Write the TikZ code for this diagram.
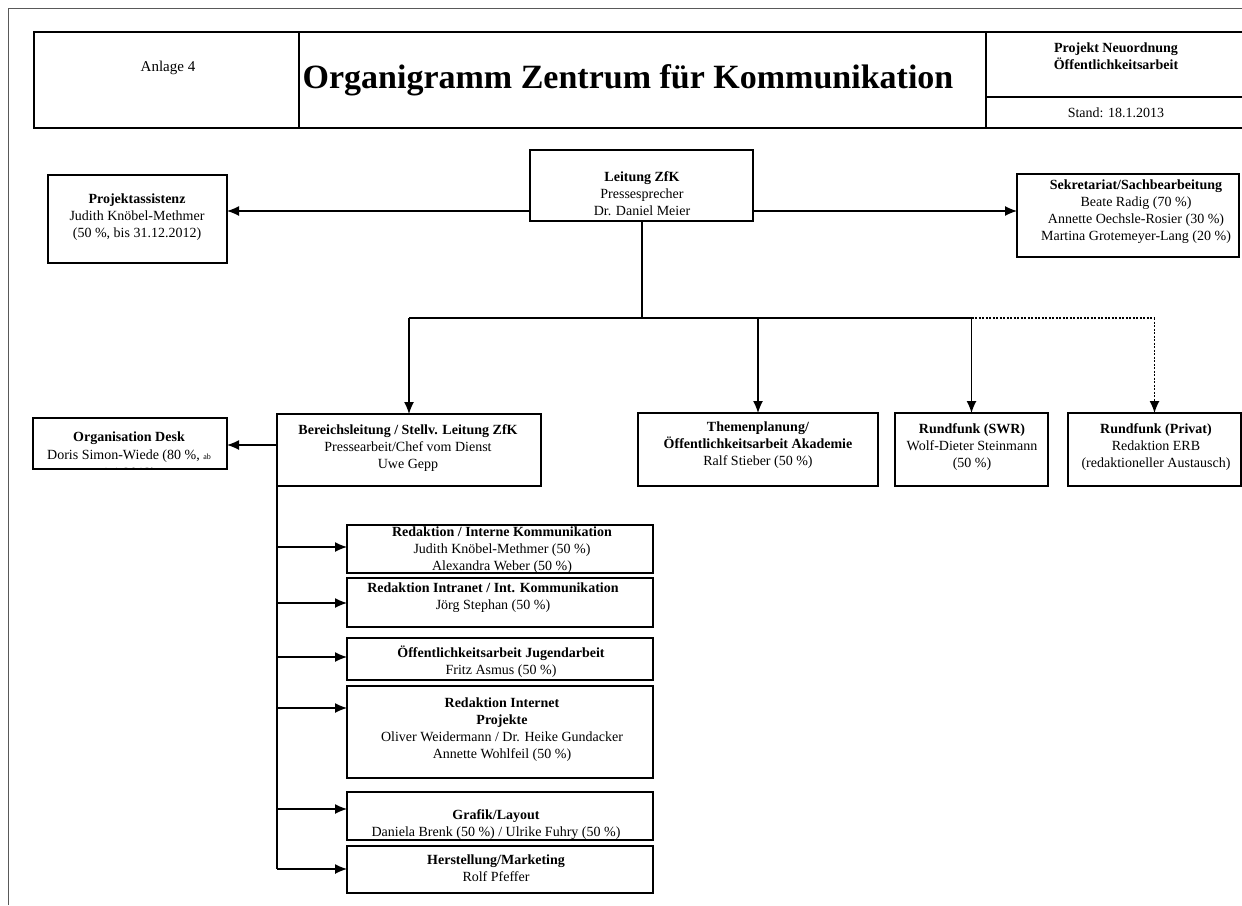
\documentclass[tikz,border=0pt]{standalone}
\usepackage{fontspec}
\setmainfont{Liberation Serif}
\usetikzlibrary{arrows.meta,fit}
\newcommand\bodyfont{\fontsize{14}{17}\selectfont}
\tikzset{
  box/.style={draw=black, line width=1.3pt, inner sep=0pt, outer sep=0pt, fill=none},
  txt/.style={inner sep=0pt, align=center, font=\bodyfont, text=black},
  arr/.style={line width=1.3pt, -{Latex[length=12pt,width=10pt]}},
  conn/.style={line width=1.3pt},
  dotconn/.style={line width=1.3pt, dash pattern=on 2pt off 1.5pt},
  pageline/.style={line width=1pt, draw=black!65}
}
\begin{document}
\begin{tikzpicture}[x=1pt,y=-1pt]
\useasboundingbox (0,0) rectangle (1242,905);
% page border
\coordinate (pgA) at (8,905);
\coordinate (pgB) at (8,8);
\coordinate (pgC) at (1242,8);
\draw[pageline] (pgA) -- (pgB) -- (pgC);

% header
\node[box, fit={(34,32) (299,128)}] (anl) {};
\node[box, fit={(299,32) (986,128)}] (tcell) {};
\node[box, fit={(986,32) (1246,97)}] (pcell) {};
\node[box, fit={(986,97) (1246,128)}] (scell) {};
\node[txt, font=\fontsize{15}{18}\selectfont] (anl-t) at (168,68) {Anlage 4};
\node[txt, anchor=base, font=\fontsize{34}{40}\selectfont\bfseries] (title) at (628,88) {Organigramm Zentrum für Kommunikation};
\node[txt] (proj-t) at (1116,56) {\textbf{Projekt Neuordnung}\\\textbf{Öffentlichkeitsarbeit}};
\node[txt] (stand-t) at (1116,113) {Stand: 18.1.2013};

% top level
\node[box, fit={(530,150) (753,221)}] (lz) {};
\node[txt] (lz-t) at (642,194) {\textbf{Leitung ZfK}\\Pressesprecher\\Dr. Daniel Meier};
\node[box, fit={(48,175) (227,263)}] (pa) {};
\node[txt] (pa-t) at (137,217) {\textbf{Projektassistenz}\\Judith Knöbel-Methmer\\(50 \%, bis 31.12.2012)};
\node[box, fit={(1017,174) (1239,257)}] (sek) {};
\node[txt] (sek-t) at (1136,212) {\textbf{Sekretariat/Sachbearbeitung}\\Beate Radig (70 \%)\\Annette Oechsle-Rosier (30 \%)\\Martina Grotemeyer-Lang (20 \%)};

\draw[arr] (lz.west |- 0,211) -- (pa.east |- 0,211);
\draw[arr] (lz.east |- 0,211) -- (sek.west |- 0,211);

% second level
\node[box, fit={(277,414) (541,486)}] (bl) {};
\node[txt] (bl-t) at (408,448) {\textbf{Bereichsleitung / Stellv. Leitung ZfK}\\Pressearbeit/Chef vom Dienst\\Uwe Gepp};
\node[box, fit={(638,413) (878,486)}] (th) {};
\node[txt] (th-t) at (758,445) {\textbf{Themenplanung/}\\\textbf{Öffentlichkeitsarbeit Akademie}\\Ralf Stieber (50 \%)};
\node[box, fit={(895,413) (1048,486)}] (swr) {};
\node[txt] (swr-t) at (972,447) {\textbf{Rundfunk (SWR)}\\Wolf-Dieter Steinmann\\(50 \%)};
\node[box, fit={(1068,413) (1241,486)}] (pv) {};
\node[txt] (pv-t) at (1156,447) {\textbf{Rundfunk (Privat)}\\Redaktion ERB\\(redaktioneller Austausch)};
\node[box, fit={(33,418) (227,469)}] (od) {};
\begin{scope}
\clip (od.south west) rectangle (od.north east);
\node[txt, font=\fontsize{14}{18}\selectfont] (od-t) at (129,456) {\textbf{Organisation Desk}\\Doris Simon-Wiede (80 \%, {\fontsize{8}{9}\selectfont ab}\\1.1.2013)};
\end{scope}

\coordinate (j) at (642,318);
\draw[conn] (lz.south -| j) -- (j);
\draw[conn] (j -| bl.north) -- (j -| swr.north);
\draw[dotconn] (j -| swr.north) -- (j -| pv.north);
\draw[arr] (j -| bl.north) -- (bl.north);
\draw[arr] (j -| th.north) -- (th.north);
\draw[arr] (j -| swr.north) -- (swr.north);
\draw[arr, dash pattern=on 2pt off 1.5pt] (j -| pv.north) -- (pv.north);
\draw[arr] (bl.west |- 0,445) -- (od.east |- 0,445);

% third level
\node[box, fit={(347,525) (653,573)}] (r1) {};
\node[txt] (r1-t) at (502,550) {\textbf{Redaktion / Interne Kommunikation}\\Judith Knöbel-Methmer (50 \%)\\Alexandra Weber (50 \%)};
\node[box, fit={(347,578) (653,627)}] (r2) {};
\node[txt] (r2-t) at (493,598) {\textbf{Redaktion Intranet / Int. Kommunikation}\\Jörg Stephan (50 \%)};
\node[box, fit={(347,638) (653,680)}] (r3) {};
\node[txt] (r3-t) at (501,662) {\textbf{Öffentlichkeitsarbeit Jugendarbeit}\\Fritz Asmus (50 \%)};
\node[box, fit={(347,686) (653,778)}] (r4) {};
\node[txt] (r4-t) at (502,730) {\textbf{Redaktion Internet}\\\textbf{Projekte}\\Oliver Weidermann / Dr. Heike Gundacker\\Annette Wohlfeil (50 \%)};
\node[box, fit={(347,792) (653,840)}] (r5) {};
\node[txt] (r5-t) at (496,825) {\textbf{Grafik/Layout}\\Daniela Brenk (50 \%) / Ulrike Fuhry (50 \%)};
\node[box, fit={(347,846) (653,893)}] (r6) {};
\node[txt] (r6-t) at (496,868) {\textbf{Herstellung/Marketing}\\Rolf Pfeffer};

\coordinate (vend) at (277,869);
\draw[conn] (bl.south west) -- (vend);
\draw[arr] (bl.west |- 0,547) -- (r1.west |- 0,547);
\draw[arr] (bl.west |- 0,603) -- (r2.west |- 0,603);
\draw[arr] (bl.west |- 0,657) -- (r3.west |- 0,657);
\draw[arr] (bl.west |- 0,708) -- (r4.west |- 0,708);
\draw[arr] (bl.west |- 0,809) -- (r5.west |- 0,809);
\draw[arr] (vend) -- (r6.west |- vend);
\end{tikzpicture}
\end{document}
